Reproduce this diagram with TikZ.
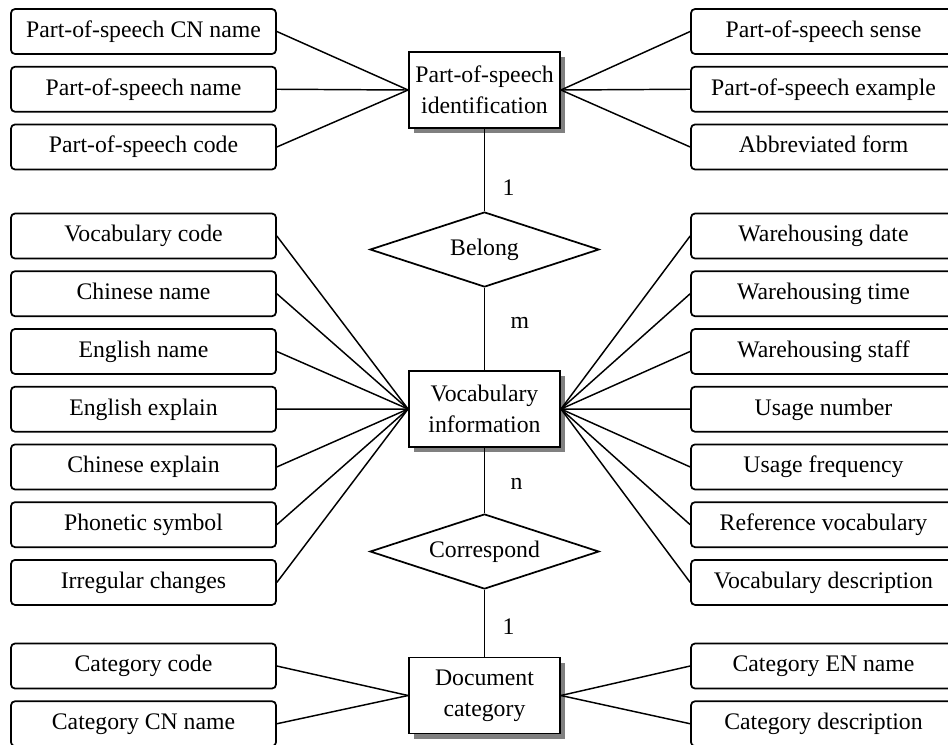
\documentclass[tikz,border=0pt]{standalone}
\usepackage{fontspec}
\setmainfont{Liberation Serif}
\usetikzlibrary{positioning,shapes.geometric,shadows}

\begin{document}
\begin{tikzpicture}[x=0.75pt, y=-0.75pt, node distance=43.3pt, line width=1.1pt,
  font=\fontsize{17.8}{23}\selectfont,
  attr/.style={rectangle, draw, rounded corners=3pt, line width=1.3pt, minimum width=198.75pt, minimum height=33.75pt, inner sep=0pt, text height=12.5pt, text depth=3.8pt},
  entity/.style={rectangle, draw, fill=white, line width=1.4pt, minimum width=113.25pt, minimum height=57pt, inner sep=0pt, align=center, drop shadow={shadow xshift=3.8pt, shadow yshift=-3.8pt, fill=gray, opacity=1}},
  relation/.style={diamond, draw, fill=white, line width=1.3pt, minimum width=171.75pt, minimum height=56.25pt, inner sep=0pt, aspect=3},
  card/.style={inner sep=0pt}]

  \useasboundingbox (0,0) rectangle (948,744);

  % entities and relations
  \node[entity] (pos) at (484.5,90) {Part-of-speech\\identification};
  \node[relation] (belong) at (484.5,249.5) {Belong};
  \node[entity] (vocab) at (484.5,409) {Vocabulary\\information};
  \node[relation] (corr) at (484.5,551.5) {Correspond};
  \node[entity] (doc) at (484.5,695.5) {Document\\category};

  % part-of-speech attributes
  \node[attr] (poscn) at (143.5,31.5) {Part-of-speech CN name};
  \node[attr, below of=poscn] (posname) {Part-of-speech name};
  \node[attr, below of=posname] (poscode) {Part-of-speech code};
  \node[attr] (possense) at (823.5,31.5) {Part-of-speech sense};
  \node[attr, below of=possense] (posexample) {Part-of-speech example};
  \node[attr, below of=posexample] (abbrev) {Abbreviated form};

  % vocabulary attributes
  \node[attr] (vcode) at (143.5,236) {Vocabulary code};
  \node[attr, below of=vcode] (cnname) {Chinese name};
  \node[attr, below of=cnname] (enname) {English name};
  \node[attr, below of=enname] (enexplain) {English explain};
  \node[attr, below of=enexplain] (cnexplain) {Chinese explain};
  \node[attr, below of=cnexplain] (phonetic) {Phonetic symbol};
  \node[attr, below of=phonetic] (irregular) {Irregular changes};
  \node[attr] (wdate) at (823.5,236) {Warehousing date};
  \node[attr, below of=wdate] (wtime) {Warehousing time};
  \node[attr, below of=wtime] (wstaff) {Warehousing staff};
  \node[attr, below of=wstaff] (usenum) {Usage number};
  \node[attr, below of=usenum] (usefreq) {Usage frequency};
  \node[attr, below of=usefreq] (refvocab) {Reference vocabulary};
  \node[attr, below of=refvocab] (vdesc) {Vocabulary description};

  % category attributes
  \node[attr] (catcode) at (143.5,666) {Category code};
  \node[attr, below of=catcode] (catcn) {Category CN name};
  \node[attr] (caten) at (823.5,666) {Category EN name};
  \node[attr, below of=caten] (catdesc) {Category description};

  \draw (pos) -- node[card, pos=0.71, right=13pt] {1} (belong);
  \draw (belong) -- node[card, pos=0.43, right=19pt] {m} (vocab);
  \draw (vocab) -- node[card, pos=0.55, right=19pt] {n} (corr);
  \draw (corr) -- node[card, pos=0.55, right=13pt] {1} (doc);

  \draw (poscn.east) -- (pos.west);
  \draw (posname.east) -- (pos.west);
  \draw (poscode.east) -- (pos.west);
  \draw (possense.west) -- (pos.east);
  \draw (posexample.west) -- (pos.east);
  \draw (abbrev.west) -- (pos.east);

  \draw (vcode.east) -- (vocab.west);
  \draw (cnname.east) -- (vocab.west);
  \draw (enname.east) -- (vocab.west);
  \draw (enexplain.east) -- (vocab.west);
  \draw (cnexplain.east) -- (vocab.west);
  \draw (phonetic.east) -- (vocab.west);
  \draw (irregular.east) -- (vocab.west);
  \draw (wdate.west) -- (vocab.east);
  \draw (wtime.west) -- (vocab.east);
  \draw (wstaff.west) -- (vocab.east);
  \draw (usenum.west) -- (vocab.east);
  \draw (usefreq.west) -- (vocab.east);
  \draw (refvocab.west) -- (vocab.east);
  \draw (vdesc.west) -- (vocab.east);

  \draw (catcode.east) -- (doc.west);
  \draw (catcn.east) -- (doc.west);
  \draw (caten.west) -- (doc.east);
  \draw (catdesc.west) -- (doc.east);
\end{tikzpicture}
\end{document}
